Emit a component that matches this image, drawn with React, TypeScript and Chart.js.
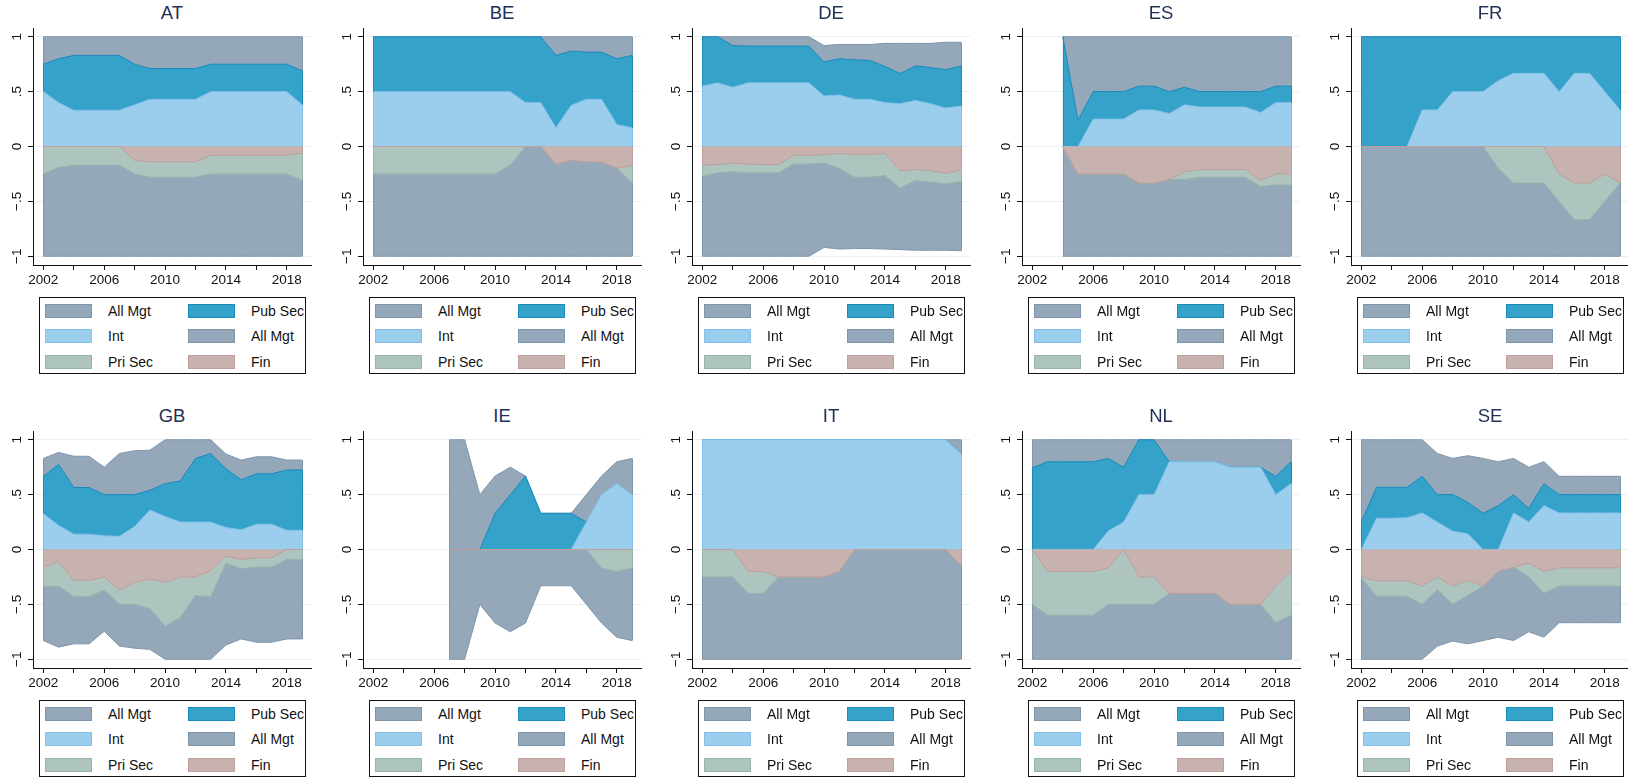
import React, { useEffect, useRef } from "react";
import { Chart, registerables } from "chart.js";

Chart.register(...registerables);

// ---------------- data ----------------
const YEARS = [2002, 2003, 2004, 2005, 2006, 2007, 2008, 2009, 2010, 2011, 2012, 2013, 2014, 2015, 2016, 2017, 2018, 2019];
const X_TICKS = [2002, 2004, 2006, 2008, 2010, 2012, 2014, 2016, 2018];
const X_LABELS = [2002, 2006, 2010, 2014, 2018];
const Y_TICKS = [-1, -0.5, 0, 0.5, 1];
const Y_TICK_LABELS = ["\u22121", "\u2212.5", "0", ".5", "1"];
const SERIES_NAMES = ["All Mgt", "Pub Sec", "Int", "All Mgt", "Pri Sec", "Fin"];
const COUNTRIES = ["AT", "BE", "DE", "ES", "FR", "GB", "IE", "IT", "NL", "SE"];

const N = null;

const AT_ALL_POS = [1, 1, 1, 1, 1, 1, 1, 1, 1, 1, 1, 1, 1, 1, 1, 1, 1, 1];
const AT_PUB = [0.75, 0.8, 0.83, 0.83, 0.83, 0.83, 0.75, 0.71, 0.71, 0.71, 0.71, 0.75, 0.75, 0.75, 0.75, 0.75, 0.75, 0.69];
const AT_INT = [0.5, 0.4, 0.33, 0.33, 0.33, 0.33, 0.38, 0.43, 0.43, 0.43, 0.43, 0.5, 0.5, 0.5, 0.5, 0.5, 0.5, 0.38];
const AT_ALL_NEG = [-1, -1, -1, -1, -1, -1, -1, -1, -1, -1, -1, -1, -1, -1, -1, -1, -1, -1];
const AT_PRI = [-0.25, -0.19, -0.17, -0.17, -0.17, -0.17, -0.25, -0.28, -0.28, -0.28, -0.28, -0.25, -0.25, -0.25, -0.25, -0.25, -0.25, -0.31];
const AT_FIN = [0, 0, 0, 0, 0, 0, -0.125, -0.14, -0.14, -0.14, -0.14, -0.08, -0.08, -0.08, -0.08, -0.08, -0.08, -0.06];

const BE_ALL_POS = [1, 1, 1, 1, 1, 1, 1, 1, 1, 1, 1, 1, 1, 1, 1, 1, 1, 1];
const BE_PUB = [1, 1, 1, 1, 1, 1, 1, 1, 1, 1, 1, 1, 0.83, 0.87, 0.86, 0.86, 0.8, 0.83];
const BE_INT = [0.5, 0.5, 0.5, 0.5, 0.5, 0.5, 0.5, 0.5, 0.5, 0.5, 0.4, 0.4, 0.17, 0.375, 0.43, 0.43, 0.2, 0.17];
const BE_ALL_NEG = [-1, -1, -1, -1, -1, -1, -1, -1, -1, -1, -1, -1, -1, -1, -1, -1, -1, -1];
const BE_PRI = [-0.25, -0.25, -0.25, -0.25, -0.25, -0.25, -0.25, -0.25, -0.25, -0.17, 0, 0, -0.16, -0.125, -0.14, -0.14, -0.2, -0.33];
const BE_FIN = [0, 0, 0, 0, 0, 0, 0, 0, 0, 0, 0, 0, -0.16, -0.125, -0.14, -0.14, -0.2, -0.17];

const DE_ALL_POS = [1, 1, 1, 1, 1, 1, 1, 1, 0.92, 0.93, 0.93, 0.93, 0.94, 0.94, 0.94, 0.94, 0.95, 0.95];
const DE_PUB = [1, 1, 0.92, 0.915, 0.915, 0.915, 0.915, 0.915, 0.77, 0.8, 0.79, 0.785, 0.73, 0.665, 0.735, 0.72, 0.7, 0.735];
const DE_INT = [0.55, 0.58, 0.54, 0.58, 0.58, 0.58, 0.58, 0.58, 0.46, 0.47, 0.43, 0.43, 0.4, 0.39, 0.42, 0.39, 0.35, 0.37];
const DE_ALL_NEG = [-1, -1, -1, -1, -1, -1, -1, -1, -0.92, -0.935, -0.93, -0.93, -0.935, -0.94, -0.945, -0.945, -0.945, -0.95];
const DE_PRI = [-0.27, -0.24, -0.23, -0.24, -0.24, -0.24, -0.16, -0.16, -0.15, -0.2, -0.28, -0.28, -0.265, -0.38, -0.31, -0.325, -0.34, -0.32];
const DE_FIN = [-0.17, -0.165, -0.15, -0.16, -0.165, -0.165, -0.08, -0.08, -0.075, -0.065, -0.07, -0.07, -0.065, -0.22, -0.21, -0.22, -0.245, -0.21];

const ES_ALL_POS = [N, N, 1, 1, 1, 1, 1, 1, 1, 1, 1, 1, 1, 1, 1, 1, 1, 1];
const ES_PUB = [N, N, 1, 0.24, 0.5, 0.5, 0.5, 0.55, 0.55, 0.5, 0.54, 0.5, 0.5, 0.5, 0.5, 0.5, 0.55, 0.55];
const ES_INT = [N, N, 0, 0, 0.25, 0.25, 0.25, 0.333, 0.333, 0.3, 0.38, 0.36, 0.36, 0.36, 0.36, 0.31, 0.4, 0.4];
const ES_ALL_NEG = [N, N, -1, -1, -1, -1, -1, -1, -1, -1, -1, -1, -1, -1, -1, -1, -1, -1];
const ES_PRI = [N, N, 0, -0.25, -0.25, -0.25, -0.25, -0.333, -0.333, -0.3, -0.3, -0.28, -0.28, -0.28, -0.28, -0.365, -0.35, -0.35];
const ES_FIN = [N, N, 0, -0.25, -0.25, -0.25, -0.25, -0.333, -0.333, -0.3, -0.23, -0.21, -0.21, -0.21, -0.21, -0.31, -0.25, -0.25];

const FR_ALL_POS = [1, 1, 1, 1, 1, 1, 1, 1, 1, 1, 1, 1, 1, 1, 1, 1, 1, 1];
const FR_PUB = [1, 1, 1, 1, 1, 1, 1, 1, 1, 1, 1, 1, 1, 1, 1, 1, 1, 1];
const FR_INT = [0, 0, 0, 0, 0.333, 0.333, 0.5, 0.5, 0.5, 0.6, 0.667, 0.667, 0.667, 0.5, 0.667, 0.667, 0.5, 0.333];
const FR_ALL_NEG = [-1, -1, -1, -1, -1, -1, -1, -1, -1, -1, -1, -1, -1, -1, -1, -1, -1, -1];
const FR_PRI = [0, 0, 0, 0, 0, 0, 0, 0, 0, -0.2, -0.333, -0.333, -0.333, -0.5, -0.667, -0.667, -0.5, -0.333];
const FR_FIN = [0, 0, 0, 0, 0, 0, 0, 0, 0, 0, 0, 0, 0, -0.25, -0.333, -0.333, -0.25, -0.333];

const GB_ALL_POS = [0.83, 0.885, 0.85, 0.85, 0.75, 0.875, 0.9, 0.905, 1, 1, 1, 1, 0.87, 0.815, 0.845, 0.845, 0.815, 0.815];
const GB_PUB = [0.665, 0.775, 0.565, 0.565, 0.5, 0.5, 0.5, 0.54, 0.6, 0.625, 0.83, 0.875, 0.735, 0.635, 0.69, 0.69, 0.725, 0.725];
const GB_INT = [0.325, 0.22, 0.14, 0.14, 0.125, 0.12, 0.21, 0.36, 0.3, 0.25, 0.25, 0.25, 0.2, 0.18, 0.23, 0.23, 0.175, 0.175];
const GB_ALL_NEG = [-0.83, -0.89, -0.86, -0.86, -0.745, -0.88, -0.9, -0.91, -1, -1, -1, -1, -0.87, -0.815, -0.845, -0.845, -0.815, -0.815];
const GB_PRI = [-0.34, -0.335, -0.43, -0.43, -0.37, -0.5, -0.5, -0.54, -0.7, -0.62, -0.42, -0.43, -0.125, -0.175, -0.16, -0.16, -0.09, -0.09];
const GB_FIN = [-0.16, -0.11, -0.28, -0.28, -0.25, -0.37, -0.3, -0.27, -0.3, -0.25, -0.25, -0.19, -0.06, -0.09, -0.075, -0.075, 0, 0];

const IE_ALL_POS = [N, N, N, N, N, 1, 1, 0.5, 0.67, 0.75, 0.67, 0.33, 0.33, 0.33, 0.5, 0.67, 0.8, 0.83];
const IE_PUB = [N, N, N, N, N, 0, 0, 0, 0.33, 0.5, 0.67, 0.33, 0.33, 0.33, 0.25, 0.33, 0.33, 0.33];
const IE_INT = [N, N, N, N, N, 0, 0, 0, 0, 0, 0, 0, 0, 0, 0.25, 0.5, 0.6, 0.5];
const IE_ALL_NEG = [N, N, N, N, N, -1, -1, -0.5, -0.67, -0.75, -0.67, -0.33, -0.33, -0.33, -0.5, -0.67, -0.8, -0.83];
const IE_PRI = [N, N, N, N, N, 0, 0, 0, 0, 0, 0, 0, 0, 0, 0, -0.17, -0.2, -0.17];
const IE_FIN = [N, N, N, N, N, 0, 0, 0, 0, 0, 0, 0, 0, 0, 0, 0, 0, 0];

const IT_ALL_POS = [1, 1, 1, 1, 1, 1, 1, 1, 1, 1, 1, 1, 1, 1, 1, 1, 1, 1];
const IT_PUB = [1, 1, 1, 1, 1, 1, 1, 1, 1, 1, 1, 1, 1, 1, 1, 1, 1, 0.87];
const IT_INT = [1, 1, 1, 1, 1, 1, 1, 1, 1, 1, 1, 1, 1, 1, 1, 1, 1, 0.87];
const IT_ALL_NEG = [-1, -1, -1, -1, -1, -1, -1, -1, -1, -1, -1, -1, -1, -1, -1, -1, -1, -1];
const IT_PRI = [-0.25, -0.25, -0.25, -0.4, -0.4, -0.25, -0.25, -0.25, -0.25, -0.2, 0, 0, 0, 0, 0, 0, 0, -0.143];
const IT_FIN = [0, 0, 0, -0.2, -0.2, -0.25, -0.25, -0.25, -0.25, -0.2, 0, 0, 0, 0, 0, 0, 0, -0.143];

const NL_ALL_POS = [1, 1, 1, 1, 1, 1, 1, 1, 1, 1, 1, 1, 1, 1, 1, 1, 1, 1];
const NL_PUB = [0.745, 0.8, 0.8, 0.8, 0.8, 0.83, 0.75, 1, 1, 0.8, 0.8, 0.8, 0.8, 0.75, 0.75, 0.75, 0.665, 0.8];
const NL_INT = [0, 0, 0, 0, 0, 0.17, 0.25, 0.5, 0.5, 0.8, 0.8, 0.8, 0.8, 0.75, 0.75, 0.75, 0.5, 0.6];
const NL_ALL_NEG = [-1, -1, -1, -1, -1, -1, -1, -1, -1, -1, -1, -1, -1, -1, -1, -1, -1, -1];
const NL_PRI = [-0.5, -0.6, -0.6, -0.6, -0.6, -0.5, -0.5, -0.5, -0.5, -0.4, -0.4, -0.4, -0.4, -0.5, -0.5, -0.5, -0.667, -0.6];
const NL_FIN = [0, -0.2, -0.2, -0.2, -0.2, -0.167, 0, -0.25, -0.25, -0.4, -0.4, -0.4, -0.4, -0.5, -0.5, -0.5, -0.333, -0.2];

const SE_ALL_POS = [1, 1, 1, 1, 1, 0.875, 0.83, 0.855, 0.83, 0.8, 0.83, 0.75, 0.8, 0.667, 0.667, 0.667, 0.667, 0.667];
const SE_PUB = [0.25, 0.567, 0.567, 0.567, 0.667, 0.5, 0.5, 0.43, 0.33, 0.4, 0.5, 0.375, 0.6, 0.5, 0.5, 0.5, 0.5, 0.5];
const SE_INT = [0, 0.285, 0.285, 0.29, 0.333, 0.25, 0.167, 0.143, 0, 0, 0.333, 0.25, 0.4, 0.333, 0.333, 0.333, 0.333, 0.333];
const SE_ALL_NEG = [-1, -1, -1, -1, -1, -0.88, -0.835, -0.86, -0.83, -0.8, -0.83, -0.75, -0.8, -0.667, -0.667, -0.667, -0.667, -0.667];
const SE_PRI = [-0.26, -0.425, -0.425, -0.425, -0.5, -0.365, -0.5, -0.42, -0.333, -0.2, -0.16, -0.25, -0.4, -0.333, -0.333, -0.333, -0.333, -0.333];
const SE_FIN = [-0.25, -0.285, -0.285, -0.285, -0.333, -0.25, -0.333, -0.28, -0.333, -0.2, -0.16, -0.125, -0.2, -0.167, -0.167, -0.167, -0.167, -0.167];

const PANEL_SERIES: (number | null)[][][] = [
  [AT_ALL_POS, AT_PUB, AT_INT, AT_ALL_NEG, AT_PRI, AT_FIN],
  [BE_ALL_POS, BE_PUB, BE_INT, BE_ALL_NEG, BE_PRI, BE_FIN],
  [DE_ALL_POS, DE_PUB, DE_INT, DE_ALL_NEG, DE_PRI, DE_FIN],
  [ES_ALL_POS, ES_PUB, ES_INT, ES_ALL_NEG, ES_PRI, ES_FIN],
  [FR_ALL_POS, FR_PUB, FR_INT, FR_ALL_NEG, FR_PRI, FR_FIN],
  [GB_ALL_POS, GB_PUB, GB_INT, GB_ALL_NEG, GB_PRI, GB_FIN],
  [IE_ALL_POS, IE_PUB, IE_INT, IE_ALL_NEG, IE_PRI, IE_FIN],
  [IT_ALL_POS, IT_PUB, IT_INT, IT_ALL_NEG, IT_PRI, IT_FIN],
  [NL_ALL_POS, NL_PUB, NL_INT, NL_ALL_NEG, NL_PRI, NL_FIN],
  [SE_ALL_POS, SE_PUB, SE_INT, SE_ALL_NEG, SE_PRI, SE_FIN],
];

// ---------------- style ----------------
const FILLS = ["#95A8B9", "#34A2C9", "#9BCDEC", "#95A8B9", "#ADC4BF", "#C8B2AF"];
const LINES = ["#7F95AA", "#1A8ABD", "#82C1EA", "#7F95AA", "#96B3AC", "#C09E99"];
const DRAW_ORDER = [6, 5, 4, 3, 2, 1];
const FONT = "'Liberation Sans', Arial, Helvetica, sans-serif";
const TEXT = "#111";
const TITLE_COLOR = "#1F2F55";
const GRID = "#E8F0F2";

const COL_LEFT = [0, 330, 659, 989, 1318];
const ROW_TOP = [0, 403];
const CANVAS_W = 330;
const CANVAS_H = 292;

Chart.defaults.font.family = FONT;

const edgePlugin = {
  id: "areaEdges",
  afterDatasetDraw(chart: any, args: any) {
    const ds = chart.data.datasets[args.index];
    const pts = args.meta.data;
    const valid: number[] = [];
    ds.data.forEach((d: any, i: number) => {
      if (d.y !== null && d.y !== undefined) valid.push(i);
    });
    if (!valid.length) return;
    const y0 = chart.scales.y.getPixelForValue(0);
    const ctx = chart.ctx;
    const a = chart.chartArea;
    ctx.save();
    ctx.beginPath();
    ctx.rect(a.left, a.top, a.right - a.left, a.bottom - a.top);
    ctx.clip();
    ctx.beginPath();
    ctx.strokeStyle = ds.borderColor;
    ctx.lineWidth = 1;
    [valid[0], valid[valid.length - 1]].forEach((i) => {
      const p = pts[i];
      ctx.moveTo(Math.round(p.x) + 0.5, y0);
      ctx.lineTo(Math.round(p.x) + 0.5, p.y);
    });
    ctx.stroke();
    ctx.restore();
  },
};

const yLabelPlugin = {
  id: "yLabels",
  afterDraw(chart: any) {
    const ctx = chart.ctx;
    const ys = chart.scales.y;
    ctx.save();
    ctx.fillStyle = TEXT;
    ctx.font = `13.5px ${FONT}`;
    ctx.textAlign = "center";
    ctx.textBaseline = "alphabetic";
    Y_TICKS.forEach((v, i) => {
      const y = ys.getPixelForValue(v);
      ctx.save();
      ctx.translate(21, y);
      ctx.rotate(-Math.PI / 2);
      ctx.fillText(Y_TICK_LABELS[i], 0, 0);
      ctx.restore();
    });
    ctx.restore();
  },
};

function Panel({ idx }: { idx: number }) {
  const ref = useRef<HTMLCanvasElement | null>(null);
  const series = PANEL_SERIES[idx];
  const left = COL_LEFT[idx % 5];
  const top = ROW_TOP[Math.floor(idx / 5)];

  useEffect(() => {
    if (!ref.current) return;
    const datasets = series.map((vals, i) => ({
      label: SERIES_NAMES[i],
      data: YEARS.map((yr, j) => ({ x: yr, y: vals[j] })),
      backgroundColor: FILLS[i],
      borderColor: LINES[i],
      borderWidth: 1,
      pointRadius: 0,
      fill: "origin",
      tension: 0,
      order: DRAW_ORDER[i],
      spanGaps: false,
    }));
    const chart = new Chart(ref.current, {
      type: "line",
      data: { datasets } as any,
      options: {
        responsive: false,
        animation: false,
        devicePixelRatio: 1,
        layout: { padding: { top: 28, right: 19, bottom: 0, left: 0 } },
        plugins: {
          legend: { display: false },
          tooltip: { enabled: false },
          title: { display: false },
        },
        scales: {
          x: {
            type: "linear",
            min: 2001.32,
            max: 2019.59,
            afterFit: (s: any) => {
              s.height = 27;
            },
            afterBuildTicks: (s: any) => {
              s.ticks = X_TICKS.map((v) => ({ value: v }));
            },
            ticks: {
              autoSkip: false,
              maxRotation: 0,
              minRotation: 0,
              color: TEXT,
              padding: 2,
              font: { size: 13.5, family: FONT },
              callback: (v: any) => (X_LABELS.includes(Number(v)) ? String(v) : ""),
            },
            grid: { drawOnChartArea: false, tickLength: 5, tickColor: TEXT, lineWidth: 1 },
            border: { color: TEXT, width: 1 },
          },
          y: {
            min: -1.08,
            max: 1.08,
            afterFit: (s: any) => {
              s.width = 33;
            },
            afterBuildTicks: (s: any) => {
              s.ticks = Y_TICKS.map((v) => ({ value: v }));
            },
            ticks: { display: false },
            grid: { color: GRID, tickColor: TEXT, tickLength: 5, lineWidth: 1 },
            border: { color: TEXT, width: 1 },
          },
        },
      } as any,
      plugins: [edgePlugin, yLabelPlugin],
    });
    return () => chart.destroy();
  }, []);

  const legendLeft = 39;
  const legendTop = 297;
  const rowCenters = [13, 38.3, 63.7];

  return (
    <div style={{ position: "absolute", left, top, width: CANVAS_W, height: 380 }}>
      <div
        style={{
          position: "absolute",
          left: 33,
          top: 0,
          width: 278,
          height: 26,
          lineHeight: "26px",
          textAlign: "center",
          fontFamily: FONT,
          fontSize: 18.5,
          color: TITLE_COLOR,
        }}
      >
        {COUNTRIES[idx]}
      </div>
      <canvas
        ref={ref}
        width={CANVAS_W}
        height={CANVAS_H}
        style={{ position: "absolute", left: 0, top: 0, width: CANVAS_W, height: CANVAS_H }}
      />
      <div
        style={{
          position: "absolute",
          left: legendLeft,
          top: legendTop,
          width: 267,
          height: 77,
          boxSizing: "border-box",
          border: "1px solid #111",
          background: "#fff",
        }}
      >
        {SERIES_NAMES.map((name, i) => {
          const row = Math.floor(i / 2);
          const col = i % 2;
          const cy = rowCenters[row];
          return (
            <React.Fragment key={i}>
              <div
                style={{
                  position: "absolute",
                  left: col === 0 ? 4.5 : 147.5,
                  top: cy - 7,
                  width: 47,
                  height: 14,
                  boxSizing: "border-box",
                  background: FILLS[i],
                  border: `1px solid ${LINES[i]}`,
                }}
              />
              <div
                style={{
                  position: "absolute",
                  left: col === 0 ? 68 : 211,
                  top: cy - 9,
                  height: 18,
                  lineHeight: "18px",
                  fontFamily: FONT,
                  fontSize: 14,
                  color: TEXT,
                  whiteSpace: "nowrap",
                }}
              >
                {name}
              </div>
            </React.Fragment>
          );
        })}
      </div>
    </div>
  );
}

export default function App() {
  return (
    <div
      style={{
        position: "absolute",
        left: 0,
        top: 0,
        width: 1628,
        height: 777,
        overflow: "hidden",
        background: "#fff",
      }}
    >
      {COUNTRIES.map((c, i) => (
        <Panel key={c} idx={i} />
      ))}
    </div>
  );
}
